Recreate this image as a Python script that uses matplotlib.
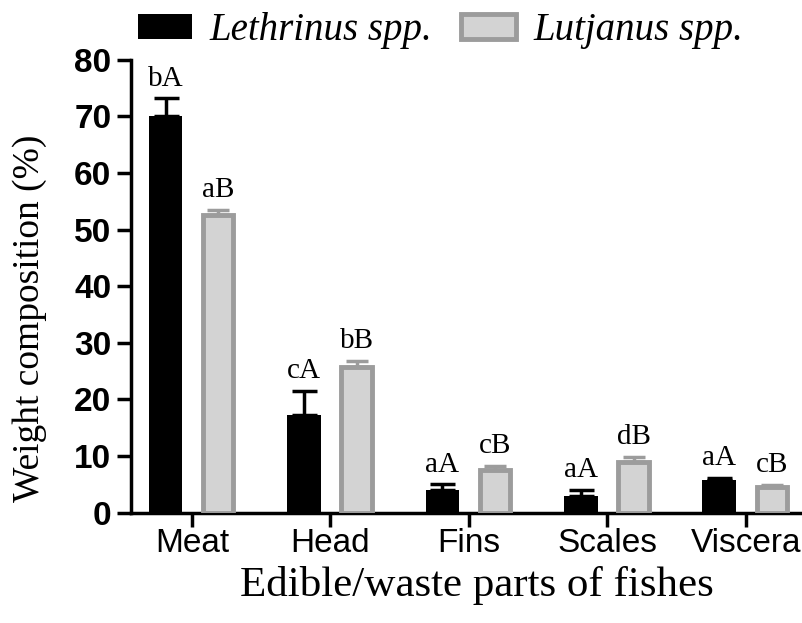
import numpy as np
import matplotlib.pyplot as plt

parts = ['Meat', 'Head', 'Fins', 'Scales', 'Viscera']
lethrinus = [70.0, 17.2, 4.0, 3.0, 5.8]
lethrinus_err = [3.2, 4.3, 1.0, 1.0, 0.3]
lutjanus = [52.5, 25.8, 7.5, 9.0, 4.5]
lutjanus_err = [1.0, 1.0, 0.8, 0.8, 0.4]
lethrinus_labels = ['bA', 'cA', 'aA', 'aA', 'aA']
lutjanus_labels = ['aB', 'bB', 'cB', 'dB', 'cB']

serif = 'Liberation Serif'
sans = 'Liberation Sans'

fig = plt.figure(figsize=(8.03, 6.23), dpi=100)
ax = fig.add_axes([0.163, 0.177, 0.833, 0.727])

x = np.arange(len(parts))
off = 0.19
w = 0.245

ax.bar(x - off, lethrinus, width=w, color='black', label='Lethrinus spp.',
       yerr=[np.zeros(len(parts)), lethrinus_err], ecolor='black',
       error_kw=dict(elinewidth=2.5, capsize=9, capthick=2.5), zorder=3)
ax.bar(x + off, lutjanus, width=w - 0.025, color='#d3d3d3', edgecolor='#9c9c9c',
       linewidth=3.5, label='Lutjanus spp.',
       yerr=[np.zeros(len(parts)), lutjanus_err], ecolor='#9c9c9c',
       error_kw=dict(elinewidth=2.5, capsize=8, capthick=2.5), zorder=3)

for i in range(len(parts)):
    ax.text(x[i] - off, lethrinus[i] + lethrinus_err[i] + 1.2, lethrinus_labels[i],
            ha='center', va='bottom', fontsize=21, family=serif)
    ax.text(x[i] + off, lutjanus[i] + lutjanus_err[i] + 1.2, lutjanus_labels[i],
            ha='center', va='bottom', fontsize=21, family=serif)

ax.set_xlim(-0.44, 4.39)
ax.set_ylim(0, 80)
ax.set_yticks(np.arange(0, 81, 10))
ax.set_xticks(x)
ax.set_xticklabels(parts, fontsize=24, family=sans)
for lab in ax.get_yticklabels():
    lab.set_fontsize(24)
    lab.set_fontweight('bold')
    lab.set_family(sans)

for s in ['top', 'right']:
    ax.spines[s].set_visible(False)
for s in ['left', 'bottom']:
    ax.spines[s].set_linewidth(2.5)
ax.tick_params(axis='both', width=2.5, length=10, direction='out')
ax.tick_params(axis='x', pad=1)
ax.tick_params(axis='y', pad=4)

ax.set_ylabel('Weight composition (%)', fontsize=27, family=serif, va='center')
ax.yaxis.set_label_coords(-0.151, 0.43)
ax.set_xlabel('Edible/waste parts of fishes', fontsize=31, family=serif, va='center')
ax.xaxis.set_label_coords(0.517, -0.16)

ax.legend(loc='center left', bbox_to_anchor=(0.01, 1.065), ncol=2, frameon=False,
          prop=dict(family=serif, style='italic', size=28),
          handlelength=1.4, handleheight=0.6, columnspacing=0.75, handletextpad=0.45,
          borderaxespad=0.0, borderpad=0.0)

plt.savefig('out.png', dpi=100)
